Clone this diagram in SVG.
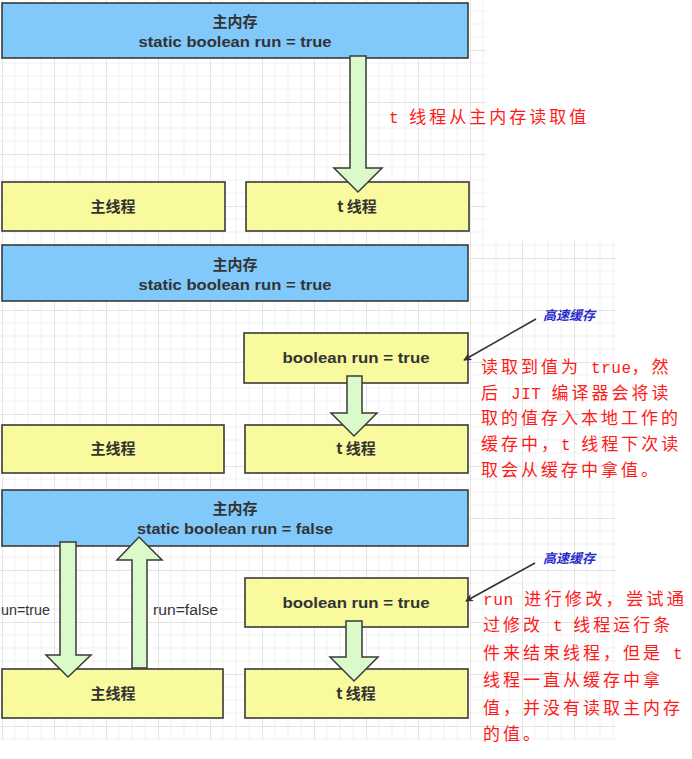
<svg xmlns="http://www.w3.org/2000/svg" width="692" height="759" viewBox="0 0 692 759">
<defs>
<style>
.mem{fill:#82c9fb;stroke:#3a3a3a;stroke-width:1.6}
.thr{fill:#f9f99d;stroke:#3a3a3a;stroke-width:1.6}
.fat{fill:#dbfac9;stroke:#3a3a3a;stroke-width:1.5;stroke-linejoin:miter}
.bt{font-family:"Liberation Sans","Noto Sans CJK SC",sans-serif;font-weight:bold;font-size:15px;fill:#333;text-anchor:middle}
.cj{font-family:"Noto Sans CJK SC",sans-serif;font-weight:bold;font-size:15px;fill:#333;text-anchor:middle}
.lab{font-family:"Liberation Sans","Noto Sans CJK SC",sans-serif;font-size:14px;fill:#333}
.note{font-family:"Liberation Mono","Noto Sans CJK SC",monospace;font-size:17px;fill:#ff1a1a;letter-spacing:3px}
.lat{font-size:16px;letter-spacing:0.5px}
.cache{font-family:"Noto Sans CJK SC",sans-serif;font-size:13px;font-style:italic;font-weight:bold;fill:#2b2bcc}
.ptr{stroke:#333;stroke-width:1.6;fill:none}
</style>
<pattern id="grid" width="52" height="52" patternUnits="userSpaceOnUse" x="2" y="-2">
<path d="M13 0V52M26 0V52M39 0V52M0 13H52M0 26H52M0 39H52" stroke="#f1f1f1" stroke-width="1"/>
<path d="M0.5 0V52M0 0.5H52" stroke="#e4e4e4" stroke-width="1"/>
</pattern>
<marker id="ah" viewBox="0 0 10 10" refX="9" refY="5" markerWidth="8" markerHeight="8" orient="auto" markerUnits="userSpaceOnUse">
<path d="M0 0L10 5L0 10L3 5z" fill="#333"/>
</marker>
</defs>
<rect width="692" height="759" fill="#fff"/>
<rect x="0" y="0" width="486" height="240" fill="url(#grid)"/>
<rect x="0" y="240" width="616" height="500" fill="url(#grid)"/>

<!-- panel 1 -->
<g id="mem1"><rect class="mem" x="2" y="3" width="466" height="55"/>
<text class="cj" x="235" y="27">主内存</text>
<text class="bt" x="235" y="47" textLength="193" lengthAdjust="spacingAndGlyphs">static boolean run = true</text></g>
<g id="main1"><rect class="thr" x="2" y="182" width="223" height="49"/><text class="cj" x="113" y="212">主线程</text></g>
<g id="t1"><rect class="thr" x="246" y="182" width="223" height="49"/><text class="cj" x="357" y="212">t 线程</text></g>

<!-- panel 2 -->
<g id="mem2"><rect class="mem" x="2" y="245" width="466" height="56"/>
<text class="cj" x="235" y="270">主内存</text>
<text class="bt" x="235" y="290" textLength="193" lengthAdjust="spacingAndGlyphs">static boolean run = true</text></g>
<g id="cache2"><rect class="thr" x="244" y="333" width="224" height="50"/>
<text class="bt" x="356" y="363" textLength="147" lengthAdjust="spacingAndGlyphs">boolean run = true</text></g>
<g id="main2"><rect class="thr" x="2" y="425" width="222" height="48"/><text class="cj" x="113" y="454">主线程</text></g>
<g id="t2"><rect class="thr" x="245" y="425" width="223" height="48"/><text class="cj" x="356" y="454">t 线程</text></g>

<!-- panel 3 -->
<g id="mem3"><rect class="mem" x="2" y="490" width="466" height="56"/>
<text class="cj" x="235" y="514">主内存</text>
<text class="bt" x="235" y="534" textLength="196" lengthAdjust="spacingAndGlyphs">static boolean run = false</text></g>
<g id="cache3"><rect class="thr" x="245" y="578" width="223" height="49"/>
<text class="bt" x="356" y="608" textLength="147" lengthAdjust="spacingAndGlyphs">boolean run = true</text></g>
<g id="main3"><rect class="thr" x="2" y="669" width="221" height="49"/><text class="cj" x="113" y="699">主线程</text></g>
<g id="t3"><rect class="thr" x="245" y="669" width="223" height="49"/><text class="cj" x="356" y="699">t 线程</text></g>

<g id="connectors">
<polygon class="fat" points="350,56 366,56 366,168 382,168 358,192 334,168 350,168"/>
<polygon class="fat" points="347,376 362,376 362,413 377,413 354,436 331,413 347,413"/>
<polygon class="fat" points="60,542 76,542 76,655 91,655 68,677 46,655 60,655"/>
<polygon class="fat" points="132,668 147,668 147,560 162,560 139,537 117,560 132,560"/>
<polygon class="fat" points="346,621 362,621 362,657 378,657 354,681 330,657 346,657"/>
<line class="ptr" x1="536" y1="319" x2="464" y2="360" marker-end="url(#ah)"/>
<line class="ptr" x1="535" y1="563" x2="466" y2="601" marker-end="url(#ah)"/>
<text class="lab" x="1" y="615" textLength="49" lengthAdjust="spacingAndGlyphs">un=true</text>
<text class="lab" x="153" y="615" textLength="65" lengthAdjust="spacingAndGlyphs">run=false</text>
</g>

<text class="note" x="389" y="123"><tspan class="lat">t </tspan>线程从主内存读取值</text>
<text class="cache" x="543" y="320">高速缓存</text>
<text class="cache" x="543" y="563">高速缓存</text>
<g id="note2">
<text class="note" x="481" y="373">读取到值为<tspan class="lat"> true</tspan>，然</text>
<text class="note" x="481" y="399">后<tspan class="lat"> JIT </tspan>编译器会将读</text>
<text class="note" x="481" y="424">取的值存入本地工作的</text>
<text class="note" x="481" y="450">缓存中，<tspan class="lat">t </tspan>线程下次读</text>
<text class="note" x="481" y="476">取会从缓存中拿值。</text>
</g>
<g id="note3">
<text class="note" x="483" y="605" textLength="204" lengthAdjust="spacingAndGlyphs"><tspan class="lat">run </tspan>进行修改，尝试通</text>
<text class="note" x="483" y="631">过修改<tspan class="lat"> t </tspan>线程运行条</text>
<text class="note" x="483" y="659">件来结束线程，但是<tspan class="lat"> t</tspan></text>
<text class="note" x="483" y="686">线程一直从缓存中拿</text>
<text class="note" x="483" y="714">值，并没有读取主内存</text>
<text class="note" x="483" y="740">的值。</text>
</g>
</svg>
